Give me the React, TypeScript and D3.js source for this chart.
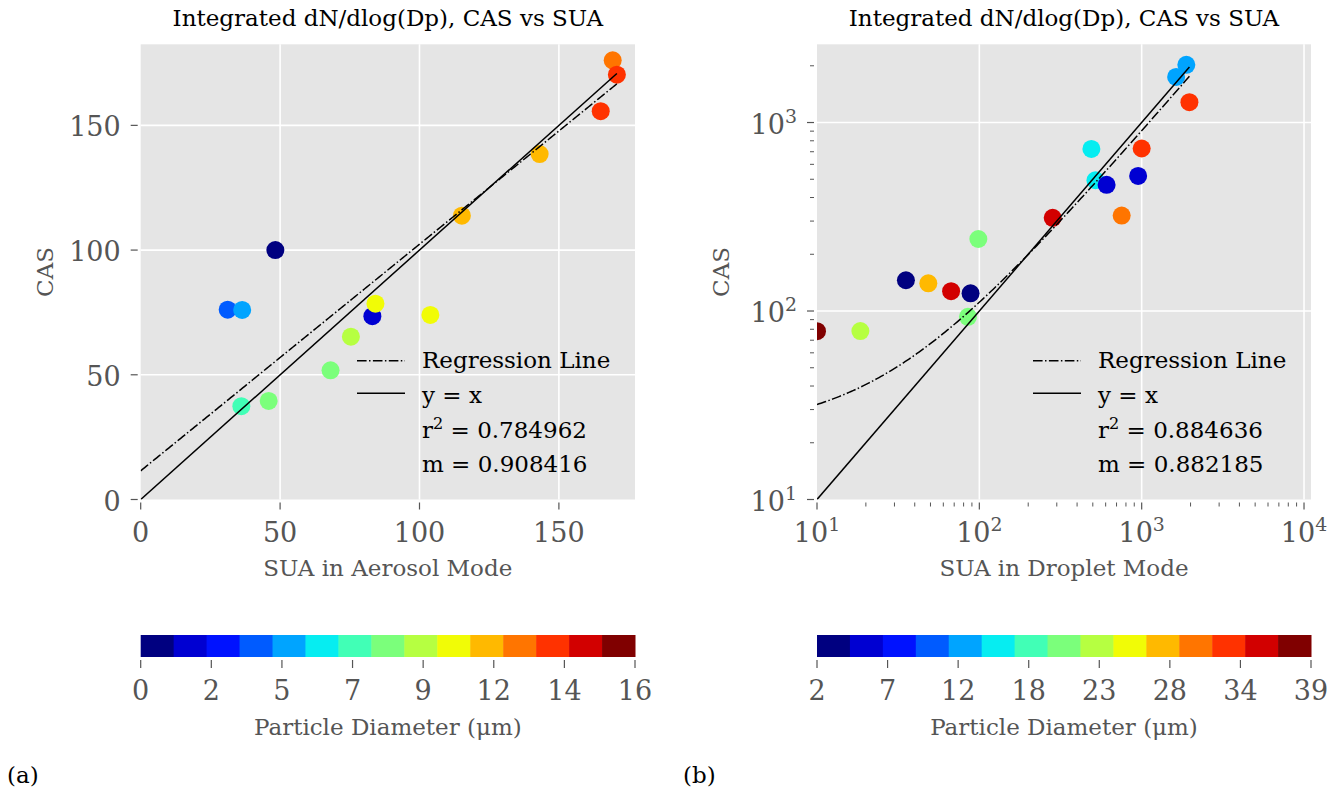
import React from 'react';
import * as d3 from 'd3';

const W = 1338;
const H = 796;
const FONT = '"DejaVu Serif", serif';

// panel (a): integrated counts in the aerosol mode
const aerosolSUA = [48.3, 31.2, 36.4, 83.1, 84.2, 75.4, 68.1, 45.9, 36.1, 103.9, 115.2, 143.1, 165.0, 169.3, 170.8];
const aerosolCAS = [100.0, 76.1, 76.0, 73.5, 78.5, 65.3, 51.8, 39.5, 37.4, 74.0, 113.8, 138.5, 155.7, 176.1, 170.3];
const aerosolBin = [0, 3, 4, 1, 9, 8, 7, 7, 6, 9, 10, 10, 12, 11, 12];
const aerosolFit = { m: 0.908416, b: 11.5, r2: '0.784962', mText: '0.908416' };
const aerosolBarTicks = ['0', '2', '5', '7', '9', '12', '14', '16'];

// panel (b): integrated counts in the droplet mode
const dropletSUA = [10, 18.5, 85.1, 35.3, 48.5, 67, 88.3, 98.6, 283, 490, 519, 608, 753, 951, 1000, 1630, 1884, 1968];
const dropletCAS = [78.2, 78.3, 93.1, 145.6, 140.3, 127.4, 124.2, 241, 312, 724, 494, 467, 321, 521, 728, 1745, 2024, 1282];
const dropletBin = [14, 8, 7, 0, 10, 13, 0, 7, 13, 5, 5, 1, 11, 1, 12, 4, 4, 12];
const dropletFit = { m: 0.882185, b: 23.1, r2: '0.884636', mText: '0.882185' };
const dropletBarTicks = ['2', '7', '12', '18', '23', '28', '34', '39'];

const N_BINS = 15;

// matplotlib "jet"
const jetR = d3.scaleLinear([0, 0.35, 0.66, 0.89, 1], [0, 0, 1, 1, 0.5]);
const jetG = d3.scaleLinear([0, 0.125, 0.375, 0.64, 0.91, 1], [0, 0, 1, 1, 0, 0]);
const jetB = d3.scaleLinear([0, 0.11, 0.34, 0.65, 1], [0.5, 1, 1, 0, 0]);
const jet = (t: number) => d3.rgb(jetR(t) * 255, jetG(t) * 255, jetB(t) * 255).formatHex();
const binColor = (i: number) => jet(i / (N_BINS - 1));

const TOP = 44.3;
const BOTTOM = 499.5;
const TICK = 27;
const LABEL = 23;
const GRAY = '#555555';

function Pow10({ e }: { e: number }) {
  return (
    <>
      <tspan>10</tspan>
      <tspan dy={-11} fontSize={TICK * 0.7}>{e}</tspan>
    </>
  );
}

function Panel(props: any) {
  const { id, x0, x1, log, xs, ys, bins, fit, barTicks, xLabel, tag } = props;
  const xScale: any = log
    ? d3.scaleLog().domain([10, Math.pow(10, 4.043)]).range([x0, x1])
    : d3.scaleLinear().domain([0, 177.3]).range([x0, x1]);
  const yScale: any = log
    ? d3.scaleLog().domain([10, Math.pow(10, 3.415)]).range([BOTTOM, TOP])
    : d3.scaleLinear().domain([0, 182.5]).range([BOTTOM, TOP]);

  const xMajor = log ? [10, 100, 1000, 10000] : [0, 50, 100, 150];
  const yMajor = log ? [10, 100, 1000] : [0, 50, 100, 150];
  const minor = (dom: number[]) => {
    const out: number[] = [];
    for (const d of [10, 100, 1000]) for (let k = 2; k <= 9; k++) {
      const v = k * d;
      if (v > dom[0] && v < dom[1]) out.push(v);
    }
    return out;
  };
  const xMinor = log ? minor(xScale.domain()) : [];
  const yMinor = log ? minor(yScale.domain()) : [];

  const xMax = d3.max(xs) as number;
  const xMin = xScale.domain()[0];
  const line = d3.line<number>().x(d => xScale(d)).y(d => yScale(d));
  const pxStart = xScale(xMin);
  const pxEnd = xScale(xMax);
  const fitX = d3.range(pxStart, pxEnd, 2).map(p => xScale.invert(p)).concat([xMax]);
  const fitPath = d3.line<number>().x(d => xScale(d)).y(d => yScale(fit.m * d + fit.b))(fitX);
  const idPath = line([xMin, xMax]);

  const barScale = d3.scaleLinear().domain([0, N_BINS]).range([x0, x1]);
  const tickScale = d3.scaleLinear().domain([0, barTicks.length - 1]).range([x0, x1]);
  const cx = (x0 + x1) / 2;
  const cy = (TOP + BOTTOM) / 2;
  const lgX = x1 - 278;
  const rows = [368, 403, 438, 472];

  return (
    <g>
      <defs>
        <clipPath id={`clip-${id}`}>
          <rect x={x0} y={TOP} width={x1 - x0} height={BOTTOM - TOP} />
        </clipPath>
      </defs>
      <text x={cx} y={26} textAnchor="middle" fontSize={LABEL} fill="#000">
        Integrated dN/dlog(Dp), CAS vs SUA
      </text>
      <rect x={x0} y={TOP} width={x1 - x0} height={BOTTOM - TOP} fill="#E5E5E5" />
      {xMajor.filter(v => xScale(v) > x0 + 1 && xScale(v) < x1).map(v => (
        <line key={`gx${v}`} x1={xScale(v)} x2={xScale(v)} y1={TOP} y2={BOTTOM} stroke="#fff" strokeWidth={1.6} />
      ))}
      {yMajor.filter(v => yScale(v) < BOTTOM - 1).map(v => (
        <line key={`gy${v}`} x1={x0} x2={x1} y1={yScale(v)} y2={yScale(v)} stroke="#fff" strokeWidth={1.6} />
      ))}
      <g clipPath={`url(#clip-${id})`}>
        {xs.map((x: number, i: number) => (
          <circle key={i} cx={xScale(x)} cy={yScale(ys[i])} r={9} fill={binColor(bins[i])} />
        ))}
        <path d={fitPath || ''} fill="none" stroke="#000" strokeWidth={1.5} strokeDasharray="9.6 2.4 1.5 2.4" />
        <path d={idPath || ''} fill="none" stroke="#000" strokeWidth={1.5} />
      </g>

      {/* ticks */}
      {xMajor.map(v => (
        <g key={`xt${v}`}>
          <line x1={xScale(v)} x2={xScale(v)} y1={BOTTOM + 3} y2={BOTTOM + 10} stroke={GRAY} strokeWidth={1.2} />
          <text x={xScale(v)} y={542} textAnchor="middle" fontSize={TICK} fill={GRAY}>
            {log ? <Pow10 e={Math.round(Math.log10(v))} /> : v}
          </text>
        </g>
      ))}
      {xMinor.map(v => (
        <line key={`xm${v}`} x1={xScale(v)} x2={xScale(v)} y1={BOTTOM + 3} y2={BOTTOM + 7} stroke={GRAY} strokeWidth={1} />
      ))}
      {yMajor.map(v => (
        <g key={`yt${v}`}>
          <line x1={x0 - 10} x2={x0 - 3} y1={yScale(v)} y2={yScale(v)} stroke={GRAY} strokeWidth={1.2} />
          <text x={x0 - 20} y={yScale(v) + 11} textAnchor="end" fontSize={TICK} fill={GRAY}>
            {log ? <Pow10 e={Math.round(Math.log10(v))} /> : v}
          </text>
        </g>
      ))}
      {yMinor.map(v => (
        <line key={`ym${v}`} x1={x0 - 7} x2={x0 - 3} y1={yScale(v)} y2={yScale(v)} stroke={GRAY} strokeWidth={1} />
      ))}

      <text x={cx} y={576} textAnchor="middle" fontSize={LABEL} fill={GRAY}>{xLabel}</text>
      <text transform={`translate(${x0 - 88},${cy}) rotate(-90)`} textAnchor="middle" fontSize={LABEL} fill={GRAY}>CAS</text>

      {/* legend */}
      <line x1={lgX} x2={lgX + 48} y1={360.7} y2={360.7} stroke="#000" strokeWidth={1.5} strokeDasharray="9.6 2.4 1.5 2.4" />
      <line x1={lgX} x2={lgX + 48} y1={393.3} y2={393.3} stroke="#000" strokeWidth={1.5} />
      <g fontSize={LABEL} fill="#000">
        <text x={lgX + 65} y={rows[0]}>Regression Line</text>
        <text x={lgX + 65} y={rows[1]}>y = x</text>
        <text x={lgX + 65} y={rows[2]}>
          r<tspan dy={-9} fontSize={LABEL * 0.7}>2</tspan><tspan dy={9}> = {fit.r2}</tspan>
        </text>
        <text x={lgX + 65} y={rows[3]}>m = {fit.mText}</text>
      </g>

      {/* colorbar */}
      {d3.range(N_BINS).map(i => (
        <rect key={`cb${i}`} x={barScale(i)} y={635} width={barScale(i + 1) - barScale(i) + 0.5} height={22} fill={binColor(i)} />
      ))}
      {barTicks.map((t: string, i: number) => (
        <g key={`bt${i}`}>
          <line x1={tickScale(i)} x2={tickScale(i)} y1={660} y2={668} stroke={GRAY} strokeWidth={1.2} />
          <text x={tickScale(i)} y={700} textAnchor="middle" fontSize={TICK} fill={GRAY}>{t}</text>
        </g>
      ))}
      <text x={cx} y={735} textAnchor="middle" fontSize={LABEL} fill={GRAY}>Particle Diameter (μm)</text>
      <text x={tag} y={783} fontSize={LABEL} fill="#000">({id})</text>
    </g>
  );
}

export default function App() {
  return (
    <svg width={W} height={H} style={{ position: 'absolute', left: 0, top: 0, background: '#fff' }} fontFamily={FONT}>
      <rect width={W} height={H} fill="#fff" />
      <Panel id="a" x0={140.7} x1={635} log={false} xs={aerosolSUA} ys={aerosolCAS} bins={aerosolBin}
        fit={aerosolFit} barTicks={aerosolBarTicks} xLabel="SUA in Aerosol Mode" tag={7} />
      <Panel id="b" x0={817} x1={1311} log={true} xs={dropletSUA} ys={dropletCAS} bins={dropletBin}
        fit={dropletFit} barTicks={dropletBarTicks} xLabel="SUA in Droplet Mode" tag={683} />
    </svg>
  );
}
